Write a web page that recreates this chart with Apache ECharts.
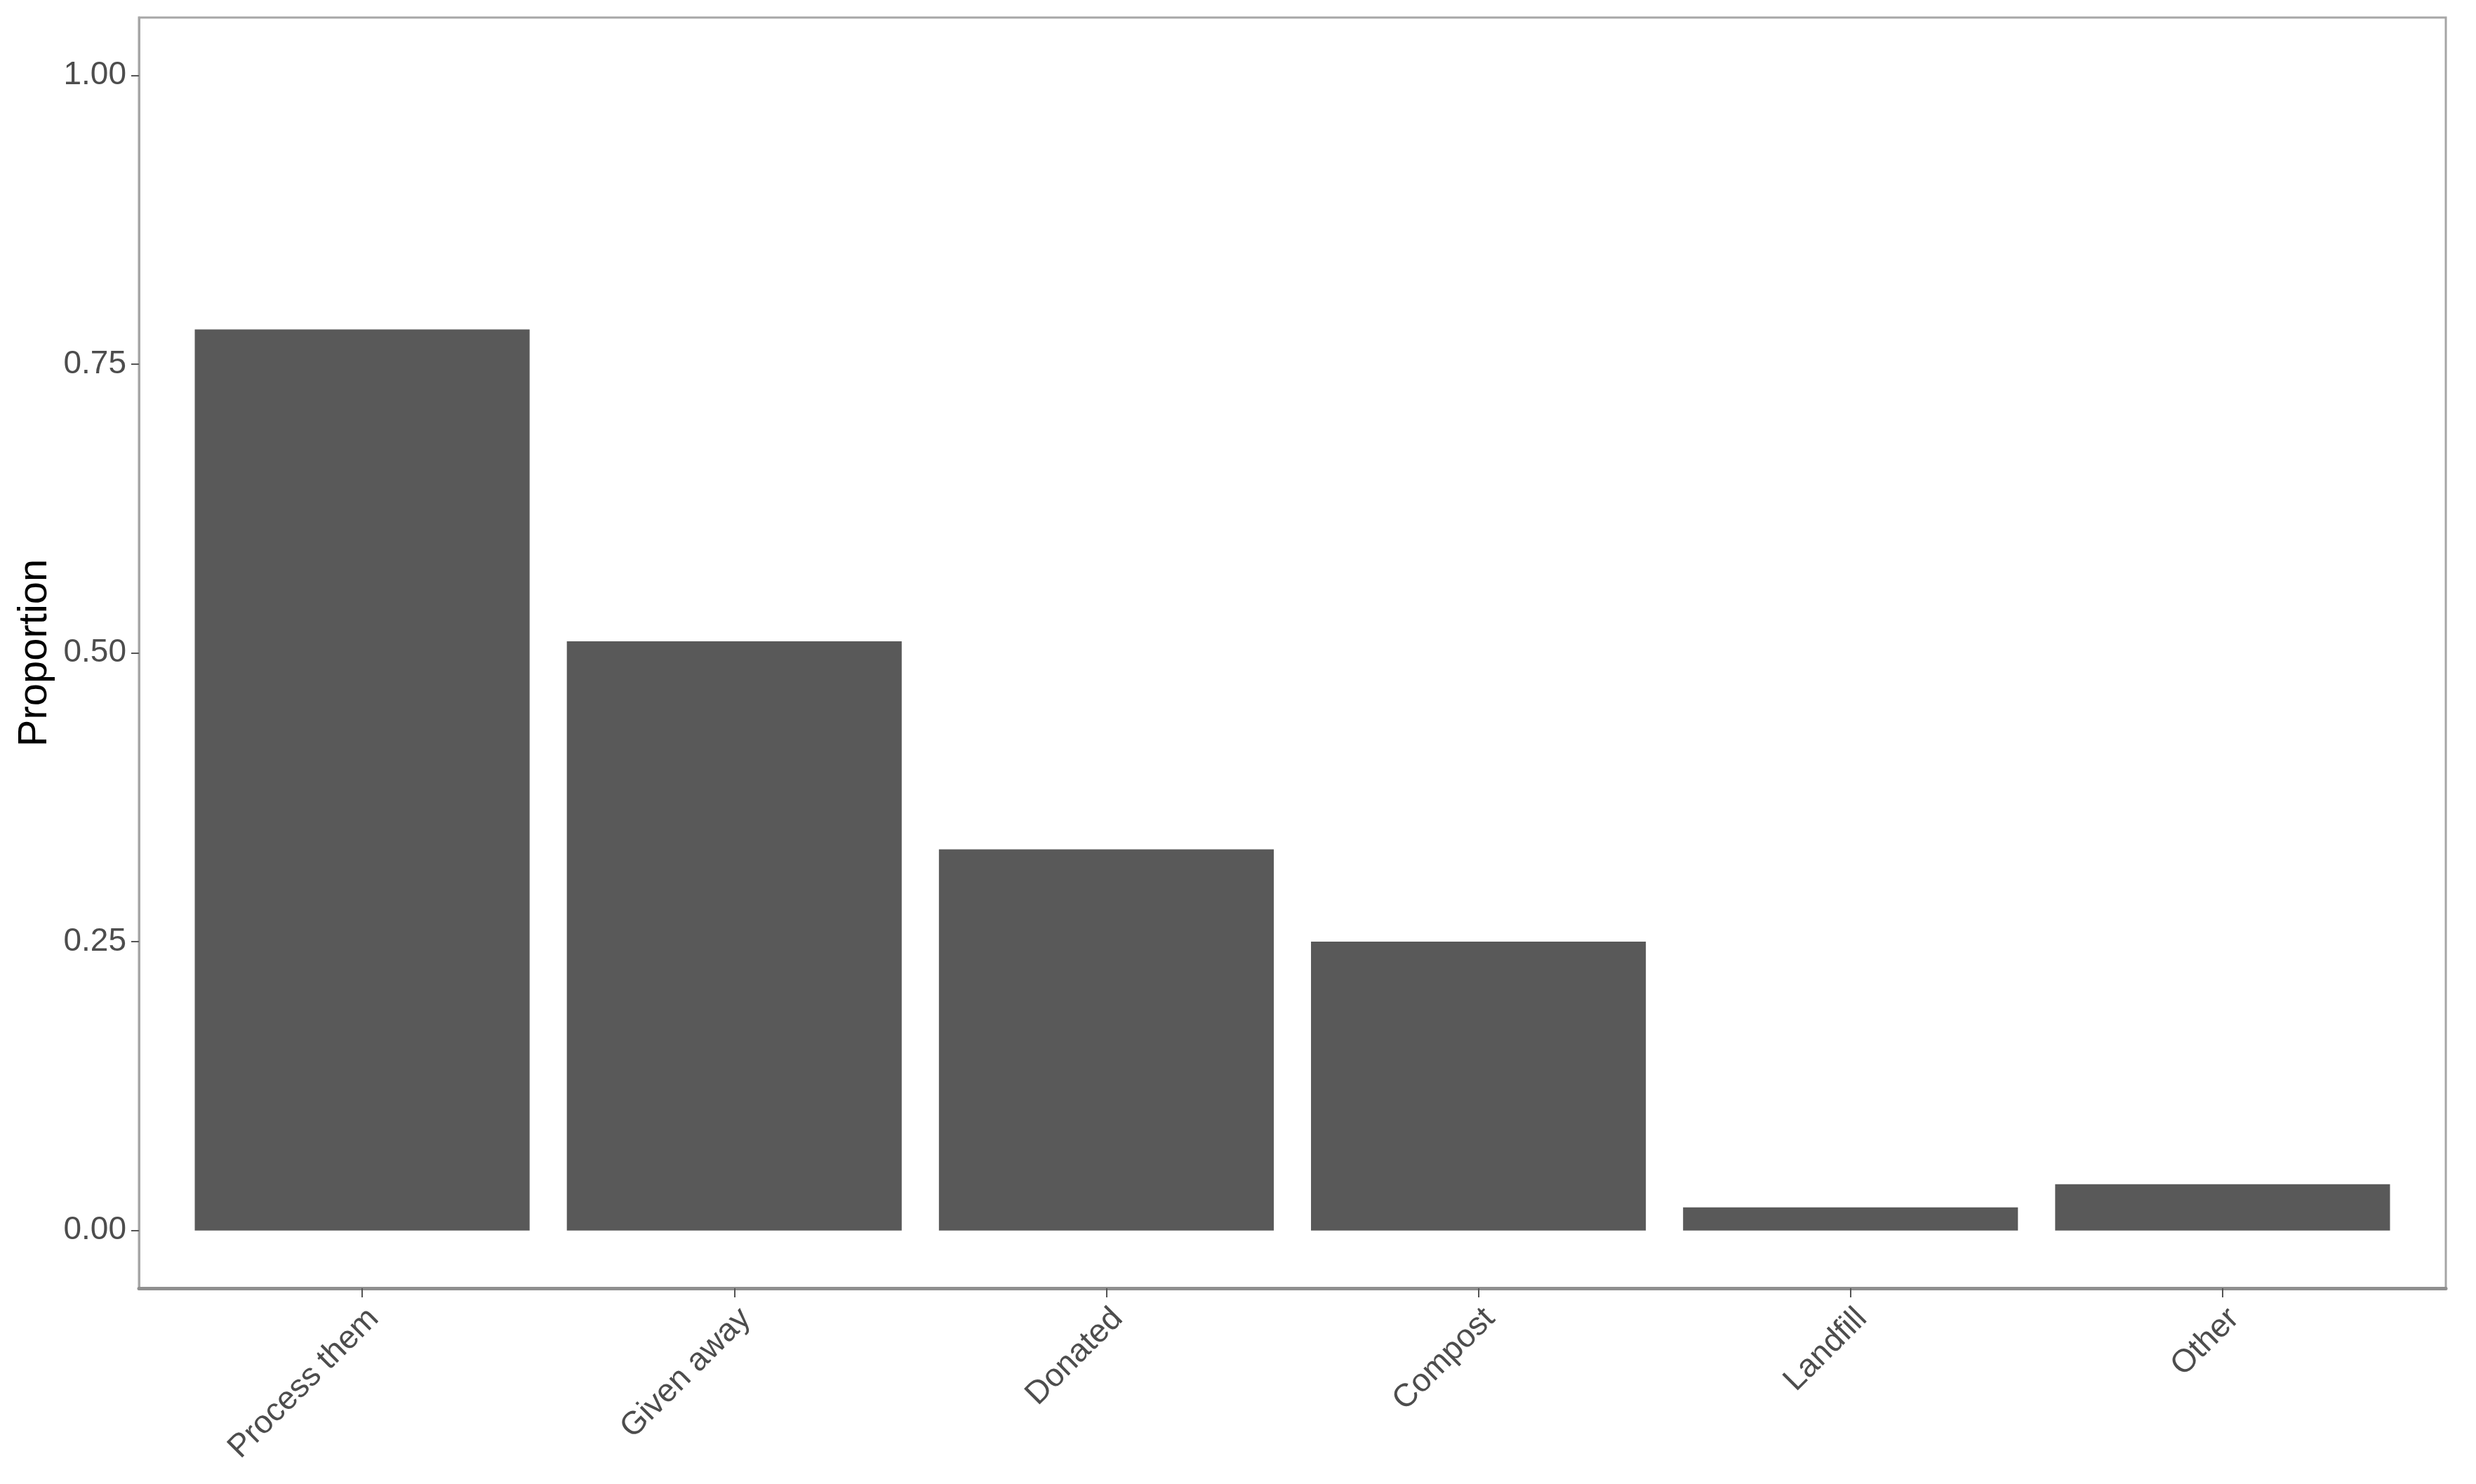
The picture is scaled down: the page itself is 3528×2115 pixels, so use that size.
<!DOCTYPE html>
<html style="height: 100%">
<head>
    <meta charset="utf-8">
    <title>Proportion</title>
</head>
<body style="height: 100%; margin: 0; background: #fff;">
<div id="container" style="width: 3528px; height: 2115px"></div>
<script type="text/javascript" src="https://cdn.jsdelivr.net/npm/echarts@6/dist/echarts.min.js"></script>
<script type="text/javascript">

    // data
    var categories = ['Process them', 'Given away', 'Donated', 'Compost', 'Landfill', 'Other'];
    var proportions = [0.78, 0.51, 0.33, 0.25, 0.02, 0.04];
    var yTicks = [0, 0.25, 0.5, 0.75, 1];
    var xTicks = [1, 2, 3, 4, 5, 6];

    var barData = [];
    for (var i = 0; i < categories.length; i++) {
        barData.push([i + 1, proportions[i]]);
    }

    var dom = document.getElementById("container");
    var myChart = echarts.init(dom);
    var font = 'Liberation Sans, Arial, sans-serif';

    var option = {
        animation: false,
        backgroundColor: '#ffffff',
        grid: {
            left: 198,
            right: 43,
            top: 25,
            bottom: 279,
            show: true,
            borderColor: '#a6a6a6',
            borderWidth: 3,
            containLabel: false,
            outerBoundsMode: 'none'
        },
        xAxis: {
            type: 'value',
            min: 0.4,
            max: 6.6,
            splitLine: {show: false},
            axisLine: {show: true, onZero: false, lineStyle: {color: '#8f8f8f', width: 5}},
            axisTick: {show: true, customValues: xTicks, length: 13, lineStyle: {color: '#555555', width: 2}},
            axisLabel: {
                customValues: xTicks,
                rotate: 45,
                margin: 20,
                verticalAlign: 'top',
                fontFamily: font,
                fontSize: 46,
                color: '#4d4d4d',
                formatter: function (v) {
                    return categories[Math.round(v) - 1] || '';
                }
            }
        },
        yAxis: {
            type: 'value',
            min: -0.05,
            max: 1.05,
            name: 'Proportion',
            nameLocation: 'middle',
            nameGap: 119,
            nameTextStyle: {fontFamily: font, fontSize: 58, color: '#000000'},
            splitLine: {show: false},
            axisLine: {show: true, onZero: false, lineStyle: {color: '#a6a6a6', width: 3}},
            axisTick: {show: true, customValues: yTicks, length: 11, lineStyle: {color: '#555555', width: 2}},
            axisLabel: {
                customValues: yTicks,
                margin: 18,
                fontFamily: font,
                fontSize: 46,
                color: '#4d4d4d',
                formatter: function (v) {
                    return v.toFixed(2);
                }
            }
        },
        series: [
            {
                type: 'bar',
                data: barData,
                barWidth: '90%',
                itemStyle: {color: '#595959'}
            }
        ]
    };

    myChart.setOption(option, true);

</script>
</body>
</html>
